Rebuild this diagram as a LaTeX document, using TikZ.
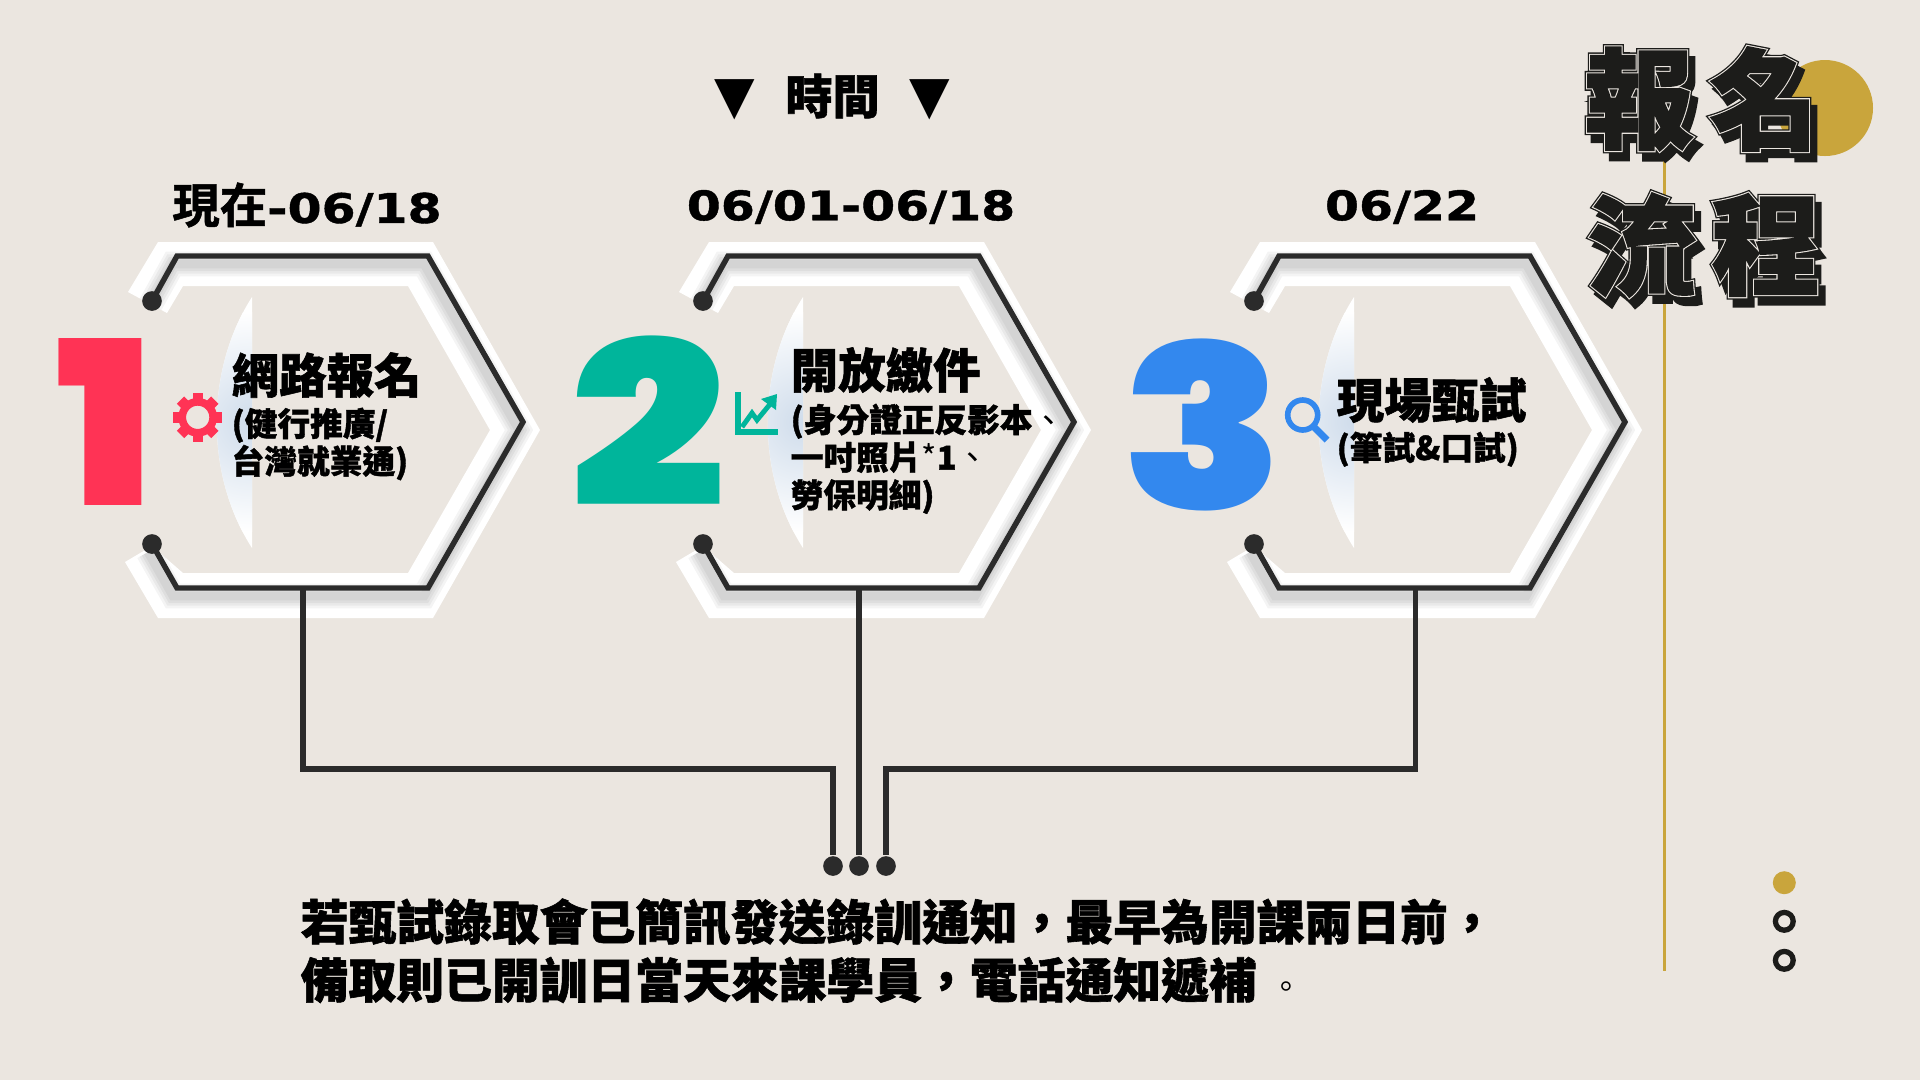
\documentclass[tikz,border=0pt]{standalone}
\usepackage{fontspec}
\newfontfamily\cjk{Noto Sans CJK TC}[UprightFont=* Black,FakeBold=1.2]
\newfontfamily\cjkthin{Noto Sans CJK TC}
\newfontfamily\numfont{Poppins}[UprightFont=* Black]
\newfontfamily\datefont{DejaVu Sans}[FakeStretch=1.2,BoldFeatures={FakeBold=1}]
\newfontfamily\markfont{DejaVu Sans}
\newfontfamily\titlerim{Noto Sans CJK TC}[UprightFont=* Black,FakeBold=6]
\newfontfamily\titlemid{Noto Sans CJK TC}[UprightFont=* Black,FakeBold=3.6]
\newfontfamily\titlefill{Noto Sans CJK TC}[UprightFont=* Black,FakeBold=1.6]
\definecolor{paper}{HTML}{EBE6E0}
\definecolor{ink}{HTML}{2B2B2B}
\definecolor{coal}{HTML}{1C1C1A}
\definecolor{gold}{HTML}{C9A53C}
\definecolor{rose}{HTML}{FF3355}
\definecolor{jade}{HTML}{00B59B}
\definecolor{azure}{HTML}{3388EE}
\definecolor{lenstint}{HTML}{CFDCEB}
\tikzset{
	enddot/.style={circle, fill=ink, inner sep=0pt, minimum size=5.6pt},
	wire/.style={draw=ink, line width=1.55pt},
	headtext/.style={inner sep=0pt, anchor=west, font=\cjk\fontsize{13.5}{16}\selectfont},
	subtext/.style={inner sep=0pt, anchor=north west, align=left, font=\cjk\fontsize{9.3}{10.7}\selectfont},
	foottext/.style={inner sep=0pt, anchor=west, font=\cjk\fontsize{13.6}{16}\selectfont},
	datetext/.style={inner sep=0pt, font=\datefont\bfseries\fontsize{11.6}{14}\selectfont},
	bignum/.style={inner sep=0pt, font=\numfont\fontsize{65}{70}\selectfont}
}
\newcommand{\hz}{\cjk\fontsize{13.5}{14}\selectfont}
\newcommand{\titleglyph}[4]{%
	\node[inner sep=0pt, text=coal, font=\titlerim\fontsize{31}{33}\selectfont] (#1s) at (#2+6,#3+8) {#4};
	\node[inner sep=0pt, text=coal, font=\titlerim\fontsize{31}{33}\selectfont] (#1r) at (#2,#3) {#4};
	\node[inner sep=0pt, text=paper, font=\titlemid\fontsize{31}{33}\selectfont] (#1m) at (#2,#3) {#4};
	\node[inner sep=0pt, text=coal, font=\titlefill\fontsize{31}{33}\selectfont] (#1f) at (#2,#3) {#4};
}
\begin{document}
\begin{tikzpicture}[x=0.1mm,y=-0.1mm]
	\useasboundingbox (0,0) rectangle (1920,1080);
	\fill[paper] (0,0) rectangle (1920,1080);
	\fill[gold] (1825,108) circle [radius=48];
	\draw[gold, line width=0.85pt] (1664,120) -- (1664,971);
	\foreach \n/\dx/\sx in {1/0/303,2/551/308,3/1102/313.5}{
		\begin{scope}[xshift=\dx*0.1mm]
			\def\bandpath{(158,242) -- (433,242) -- (540,430) -- (433,618) -- (158,618) -- (125,562) -- (152,546) -- (183,573) -- (408,573) -- (490,430) -- (408,286) -- (183,286) -- (167,313) -- (128,292) -- cycle}
			\fill[white] \bandpath;
			\begin{scope}
				\clip \bandpath;
				\foreach \w in {7,5.5,4,2.5}{
					\draw[black, opacity=0.045, line width=\w pt, xshift=-0.4mm, yshift=-0.8mm]
						(152,301) -- (177,256) -- (428,256) -- (523,422) -- (428,588) -- (177,588) -- (152,544);
				}
			\end{scope}
			\fill[white] (252,297) .. controls (205,370) and (205,475) .. (252,548) -- cycle;
			\begin{scope}
				\clip (252,297) .. controls (205,370) and (205,475) .. (252,548) -- cycle;
				\shade[inner color=lenstint, outer color=white] (252,422) circle [radius=110];
			\end{scope}
			\node[enddot] (topdot\n) at (152,301) {};
			\node[enddot] (lowdot\n) at (152,544) {};
			\draw[wire] (topdot\n.center) -- (177,256) -- (428,256) -- (523,422) -- (428,588) -- (177,588) -- (lowdot\n.center);
			\coordinate (stem\n) at (\sx,588);
		\end{scope}
	}
	\node[enddot] (dota) at (833,866) {};
	\node[enddot] (dotb) at (859,866) {};
	\node[enddot] (dotc) at (886,866) {};
	\coordinate (benda) at (833,769);
	\coordinate (bendc) at (886,769);
	\draw[wire] (stem1) |- (benda) -- (dota);
	\draw[wire] (stem2) -- (dotb);
	\draw[wire] (stem3) |- (bendc) -- (dotc);
	\node[inner sep=0pt] (timehead) at (832.5,97) {{\markfont\fontsize{15}{17}\selectfont ▼}\hspace{8.6pt}{\cjk\fontsize{13.4}{16}\selectfont 時間}\hspace{8.6pt}{\markfont\fontsize{15}{17}\selectfont ▼}};
	\node[datetext] (dateone) at (307,205) {{\hz 現在}-06/18};
	\node[datetext] (datetwo) at (851,207) {06/01-06/18};
	\node[datetext] (datethree) at (1402,207) {06/22};
	\node[bignum, text=rose] (numone) at (105,422) {\scalebox{1.07}[1]{1}};
	\node[bignum, text=jade] (numtwo) at (648,421) {\scalebox{1.2}[1]{2}};
	\node[bignum, text=azure] (numthree) at (1202.5,425) {\scalebox{1.16}[1]{3}};
	\foreach \a in {0,45,...,315}{
		\fill[rose, rotate around={\a:(197.7,417.3)}] (192.5,393) rectangle (202.9,402);
	}
	\draw[rose, line width=2.2pt] (197.7,417.3) circle [radius=15.5];
	\draw[jade, line width=1.7pt] (738,392) -- (738,432) -- (778,432);
	\draw[jade, line width=1.4pt] (742,427) -- (752,413) -- (757,420) -- (771,403);
	\fill[jade] (777,394) -- (776,410) -- (761,399) -- cycle;
	\draw[azure, line width=1.6pt] (1302.7,415) circle [radius=15];
	\draw[azure, line width=2pt] (1313,426) -- (1327,440);
	\node[headtext] (headone) at (231,375) {網路報名};
	\node[subtext] (subone) at (231,407) {(健行推廣/\\台灣就業通)};
	\node[headtext] (headtwo) at (790,370) {開放繳件};
	\node[subtext] (subtwo) at (790,403) {(身分證正反影本{\cjkthin 、}\\一吋照片{\cjkthin *}1{\cjkthin 、}\\勞保明細)};
	\node[headtext] (headthree) at (1336,400) {現場甄試};
	\node[subtext] (subthree) at (1336,431) {(筆試\&口試)};
	\node[foottext] (footone) at (300,922) {若甄試錄取會已簡訊發送錄訓通知，最早為開課兩日前，};
	\node[foottext] (foottwo) at (300,980) {備取則已開訓日當天來課學員，電話通知遞補\hspace{4pt}{\cjkthin\fontsize{9}{10}\selectfont 。}};
	\titleglyph{bao}{1639}{99}{報}
	\titleglyph{ming}{1764}{99}{名}
	\titleglyph{liu}{1642}{245}{流}
	\titleglyph{cheng}{1766}{245}{程}
	\fill[gold] (1784.3,882.7) circle [radius=11.5];
	\draw[coal, line width=1.5pt] (1784.3,921.3) circle [radius=8.9];
	\draw[coal, line width=1.5pt] (1784.3,960.3) circle [radius=8.9];
\end{tikzpicture}
\end{document}
